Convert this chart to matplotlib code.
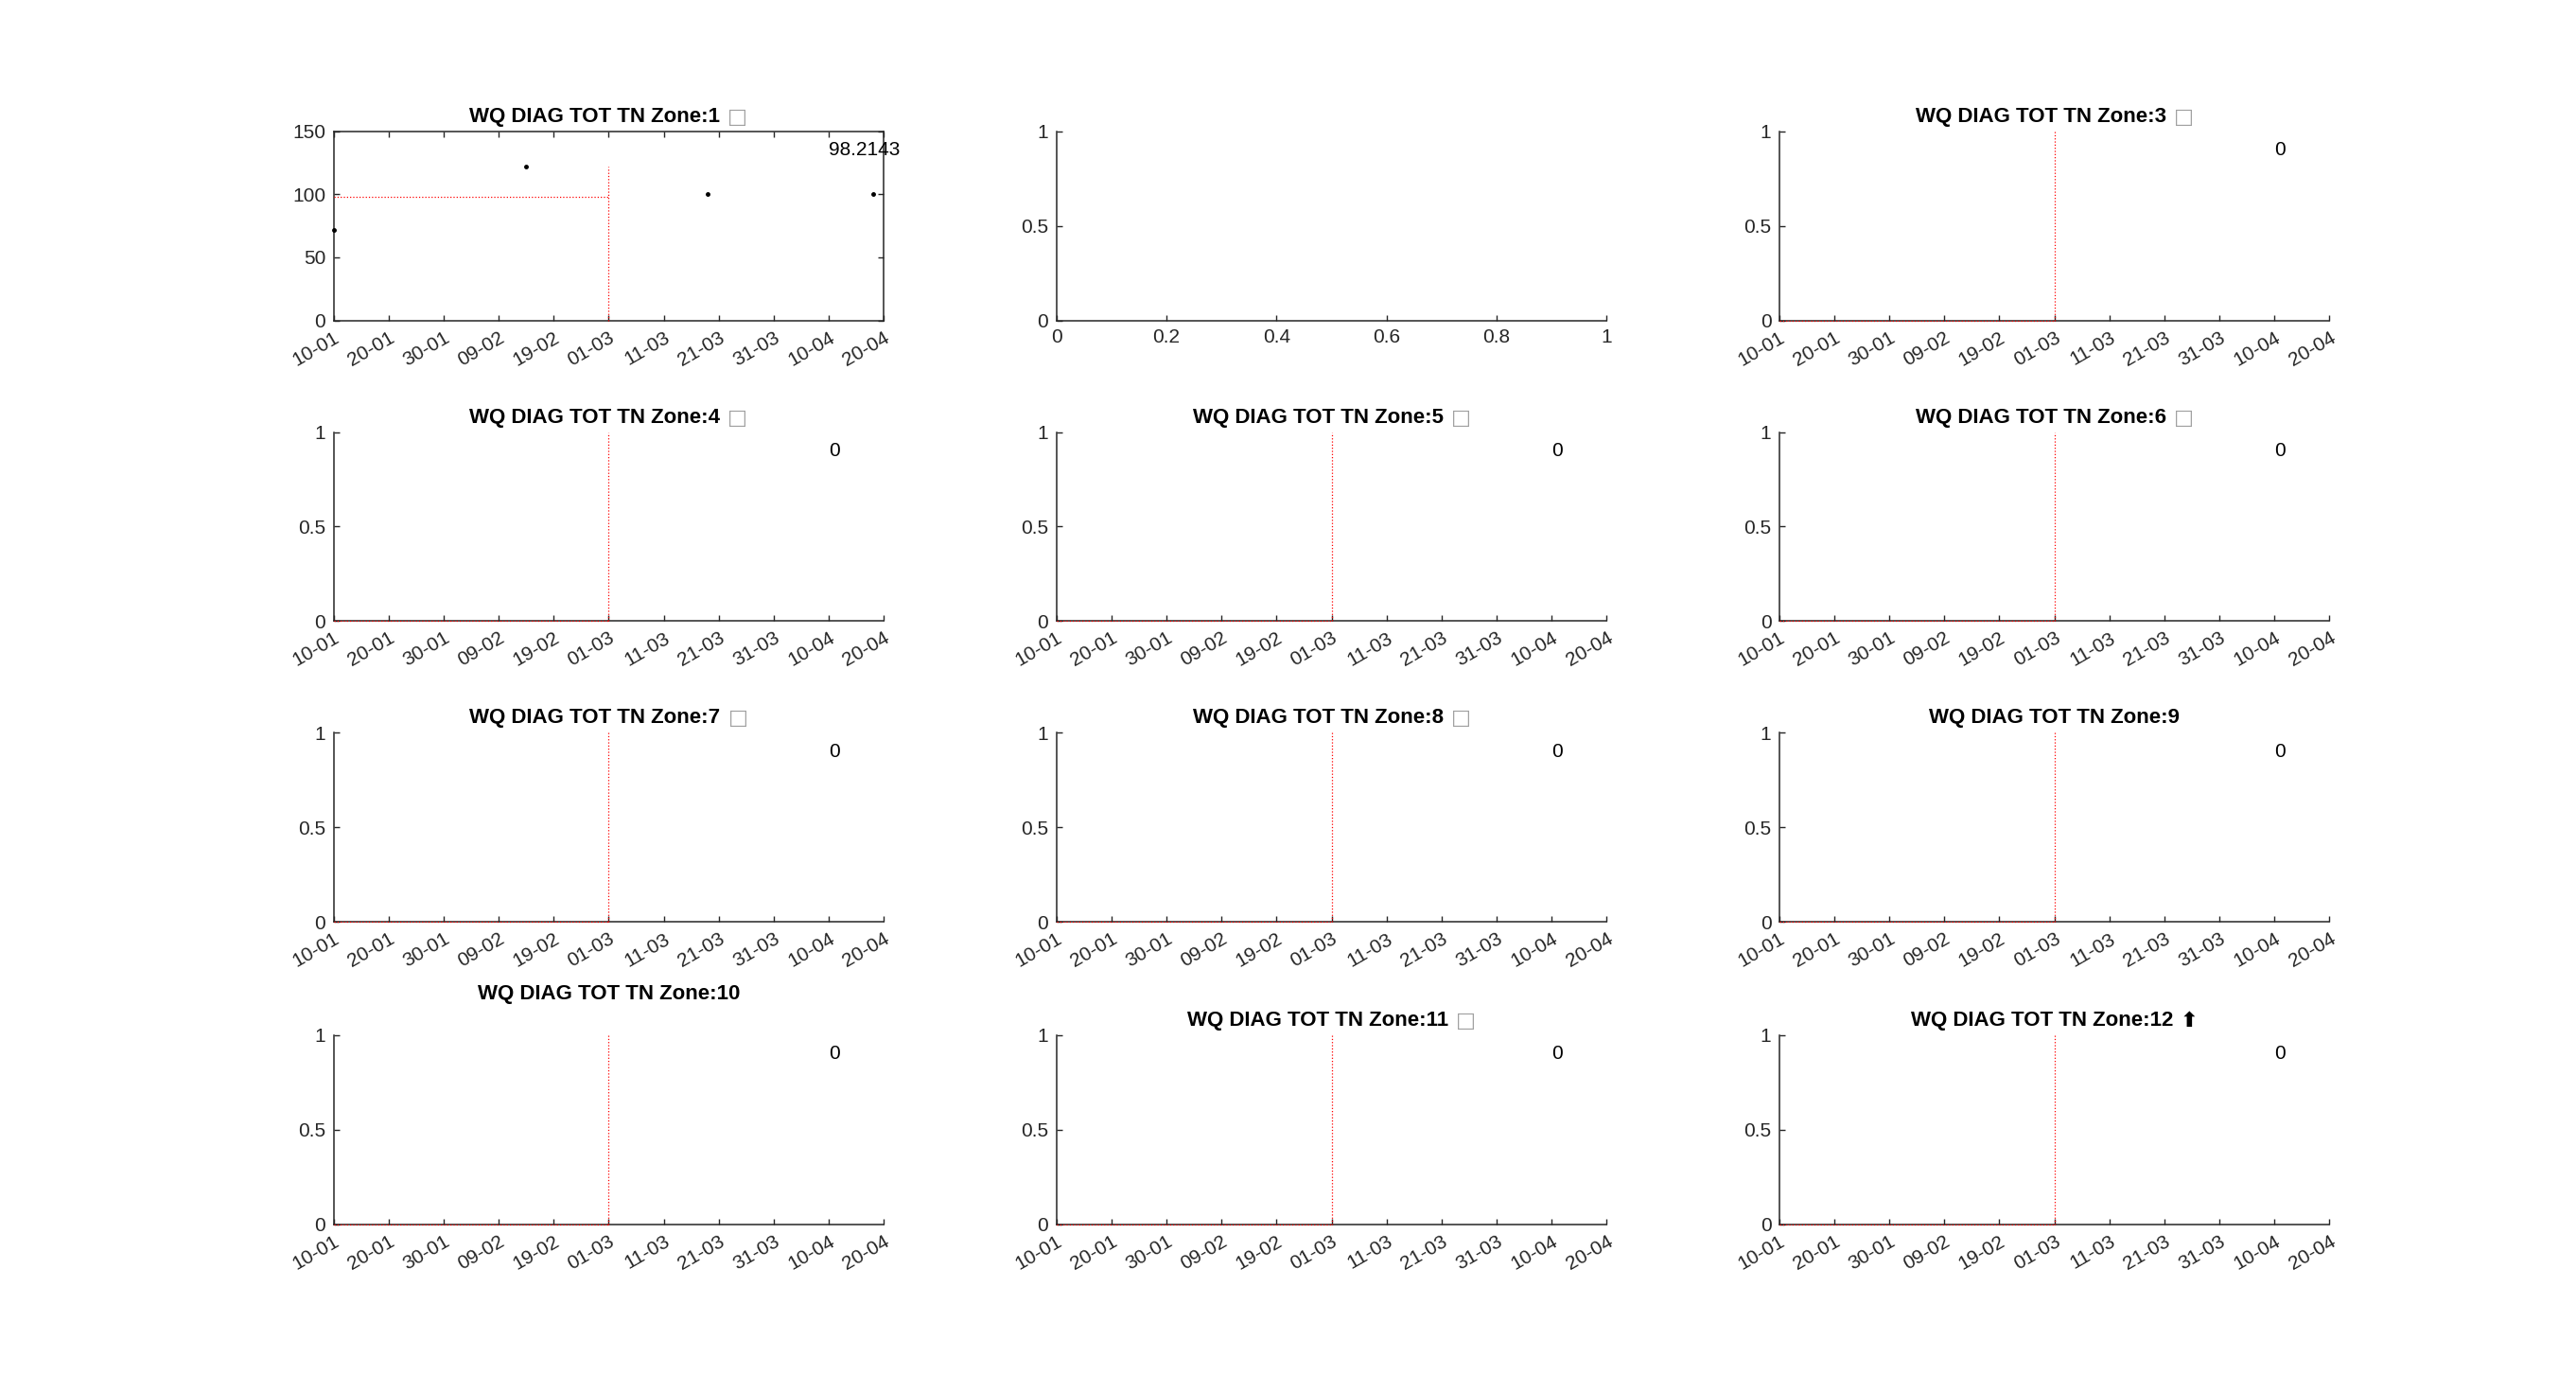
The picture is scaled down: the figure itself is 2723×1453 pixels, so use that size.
"""Zone time series panels for WQ DIAG TOT TN."""
import numpy as np
import pandas as pd
import matplotlib
matplotlib.use('Agg')
import matplotlib.pyplot as plt
import matplotlib.dates as mdates
from matplotlib.transforms import offset_copy

plt.rcParams['font.family'] = ['Liberation Sans', 'DejaVu Sans']

# data
zones = list(range(1, 13))
zone1_dates = pd.to_datetime(['2019-01-10', '2019-02-14', '2019-03-19', '2019-04-18'])
zone1_values = [71.4, 121.9, 100.0, 100.0]
zone_means = [98.2143] + [0.0] * 11
mean_labels = ['98.2143'] + ['0'] * 11
title_symbols = ['\u25a1', None, '\u25a1', '\u25a1', '\u25a1', '\u25a1', '\u25a1', '\u25a1',
                 '', '', '\u25a1', '\u2b06']
split_date = pd.Timestamp('2019-03-01')
start_date = pd.Timestamp('2019-01-10')
end_date = pd.Timestamp('2019-04-20')
tick_dates = pd.date_range(start_date, end_date, freq='10D')
label_date = pd.Timestamp('2019-04-10')

lefts = [0.1295, 0.4101, 0.6907]
bottoms = [0.7670, 0.5483, 0.3295, 0.1096]
width, height = 0.2136, 0.1375

GREY = '#262626'

fig = plt.figure(figsize=(27.23, 14.53), dpi=100)
fig.canvas.draw()
renderer = fig.canvas.get_renderer()


def style_axis(ax, box):
    for side in ['left', 'bottom', 'top', 'right']:
        ax.spines[side].set_color(GREY)
        ax.spines[side].set_linewidth(1.1)
    if not box:
        ax.spines['top'].set_visible(False)
        ax.spines['right'].set_visible(False)
    ax.tick_params(direction='in', length=4.5, width=1.0, colors=GREY,
                   labelsize=15, pad=6, top=box, right=box)


def add_title(ax, main, symbol, extra=0):
    t1 = fig.text(0, 0, main, fontsize=16, fontweight='bold', color='black')
    w1 = t1.get_window_extent(renderer).width
    gap = 8
    if symbol:
        color = '#a0a0a0' if symbol == '\u25a1' else 'black'
        t2 = fig.text(0, 0, symbol, fontsize=16, fontweight='bold', color=color,
                      family=['DejaVu Sans'])
        w2 = t2.get_window_extent(renderer).width
    else:
        t2, w2, gap = None, 0, 0
    total = w1 + gap + w2
    t1.set_transform(offset_copy(ax.transAxes, fig, x=-total / 2, y=5 + extra, units='dots'))
    t1.set_position((0.5, 1.0))
    t1.set_ha('left')
    t1.set_va('bottom')
    if t2 is not None:
        t2.set_transform(offset_copy(ax.transAxes, fig, x=-total / 2 + w1 + gap, y=5 + extra,
                                     units='dots'))
        t2.set_position((0.5, 1.0))
        t2.set_ha('left')
        t2.set_va('bottom')


for i, zone in enumerate(zones):
    row, col = divmod(i, 3)
    ax = fig.add_axes([lefts[col], bottoms[row], width, height])

    if zone == 2:
        ax.set_xlim(0, 1)
        ax.set_ylim(0, 1)
        ax.set_xticks(np.arange(0, 1.01, 0.2))
        ax.set_xticklabels(['0', '0.2', '0.4', '0.6', '0.8', '1'])
        ax.set_yticks([0, 0.5, 1])
        ax.set_yticklabels(['0', '0.5', '1'])
        style_axis(ax, box=False)
        continue

    if zone == 1:
        ax.plot(zone1_dates, zone1_values, '.', color='black', markersize=5, clip_on=False, zorder=4)
        ymax = 150
        yticks = [0, 50, 100, 150]
        vtop = max(zone1_values)
        box = True
    else:
        ymax = 1
        yticks = [0, 0.5, 1]
        vtop = 1
        box = False

    mean = zone_means[i]
    ax.plot([start_date, split_date], [mean, mean], ':', color='red', linewidth=0.9,
            clip_on=False, zorder=5)
    ax.plot([split_date, split_date], [0, vtop], ':', color='red', linewidth=0.9,
            clip_on=False, zorder=5)
    ax.text(label_date, 0.9 * ymax, mean_labels[i], fontsize=15, ha='left', va='center',
            color='black')

    ax.set_xlim(start_date, end_date)
    ax.set_ylim(0, ymax)
    ax.set_xticks(tick_dates)
    ax.xaxis.set_major_formatter(mdates.DateFormatter('%d-%m'))
    ax.set_yticks(yticks)
    ax.set_yticklabels([f'{v:g}' for v in yticks])
    style_axis(ax, box)
    for lab in ax.get_xticklabels():
        lab.set_rotation(30)
        lab.set_ha('right')
        lab.set_va('top')
        lab.set_rotation_mode('anchor')

    add_title(ax, f'WQ DIAG TOT TN Zone:{zone}', title_symbols[i], extra=28 if zone == 10 else 0)

fig.savefig('out.png', dpi=100, facecolor='white')
